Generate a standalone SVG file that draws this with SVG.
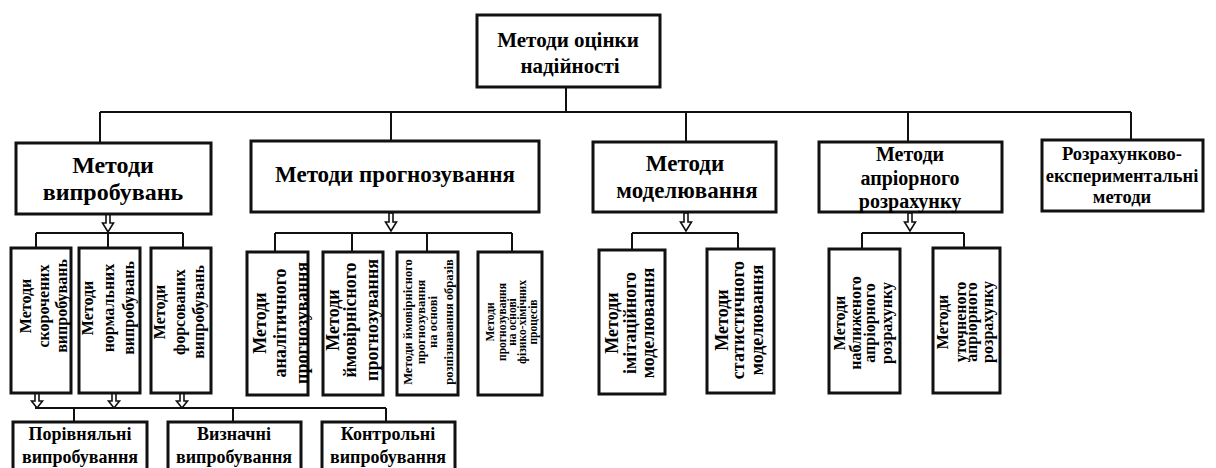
<svg xmlns="http://www.w3.org/2000/svg" width="1216" height="468" viewBox="0 0 1216 468">
<rect width="1216" height="468" fill="#fff"/>

<g id="connectors">
<path fill="none" stroke="#111" stroke-width="2" d="M566,87 V112 M100,112 H1131 M100,112 V143 M391,112 V141 M686,112 V142 M908,112 V142 M1131,112 V140 M36,233 H183 M36,233 V248 M108,231 V248 M183,233 V248 M275,233 H512 M275,233 V252 M352,233 V252 M427,233 V252 M512,233 V252 M632,233 H738 M632,233 V250 M738,233 V249 M862,233 H964 M862,233 V249 M964,233 V249 M35,408 H386 M74,408 V422 M233,408 V422 M386,408 V422"/>
<path fill="#fff" stroke="#111" stroke-width="1.6" d="M106,214 V223 H102.5 L108,232 L113.5,223 H110 V214 Z M389,213 V222 H385.5 L391,231 L396.5,222 H393 V213 Z M684,213 V222 H680.5 L686,231 L691.5,222 H688 V213 Z M908,213 V222 H904.5 L910,231 L915.5,222 H912 V213 Z M35,393 V401 H31.5 L37,408 L42.5,401 H39 V393 Z M112,393 V401 H108.5 L114,408 L119.5,401 H116 V393 Z M180,393 V401 H176.5 L182,408 L187.5,401 H184 V393 Z"/>
</g>

<g id="root">
<rect x="477" y="15" width="183" height="72" fill="#fff" stroke="#111" stroke-width="3"/>
<text font-family="Liberation Serif" font-weight="bold" text-anchor="middle" font-size="21"><tspan x="568" y="47">Методи оцінки</tspan><tspan x="570" y="73">надійності</tspan></text>
</g>

<g id="test-methods">
<rect x="16" y="143" width="195" height="71" fill="#fff" stroke="#111" stroke-width="3"/>
<text font-family="Liberation Serif" font-weight="bold" text-anchor="middle" font-size="24"><tspan x="113" y="173">Методи</tspan><tspan x="113" y="200">випробувань</tspan></text>
</g>
<g id="forecast-methods">
<rect x="251" y="141" width="288" height="71" fill="#fff" stroke="#111" stroke-width="3"/>
<text font-family="Liberation Serif" font-weight="bold" text-anchor="middle" font-size="23" x="395" y="182">Методи прогнозування</text>
</g>
<g id="model-methods">
<rect x="593" y="142" width="183" height="70" fill="#fff" stroke="#111" stroke-width="3"/>
<text font-family="Liberation Serif" font-weight="bold" text-anchor="middle" font-size="23"><tspan x="685" y="171">Методи</tspan><tspan x="687" y="198">моделювання</tspan></text>
</g>
<g id="apriori-methods">
<rect x="819" y="142" width="183" height="70" fill="#fff" stroke="#111" stroke-width="3"/>
<text font-family="Liberation Serif" font-weight="bold" text-anchor="middle" font-size="20"><tspan x="910" y="161">Методи</tspan><tspan x="910" y="185">апріорного</tspan><tspan x="910" y="208">розрахунку</tspan></text>
</g>
<g id="calc-exp-methods">
<rect x="1042" y="140" width="161" height="71" fill="#fff" stroke="#111" stroke-width="3"/>
<text font-family="Liberation Serif" font-weight="bold" text-anchor="middle" font-size="18.5"><tspan x="1122" y="160">Розрахунково-</tspan><tspan x="1122" y="182">експериментальні</tspan><tspan x="1122" y="203">методи</tspan></text>
</g>

<g id="t1">
<rect x="11" y="248" width="60" height="145" fill="#fff" stroke="#111" stroke-width="3"/>
<text font-family="Liberation Serif" font-weight="bold" text-anchor="middle" font-size="16" transform="translate(23,306) rotate(-90)"><tspan x="0" y="8">Методи</tspan><tspan x="0" y="26">скорочених</tspan><tspan x="0" y="44">випробувань</tspan></text>
</g>
<g id="t2">
<rect x="79" y="248" width="61" height="145" fill="#fff" stroke="#111" stroke-width="3"/>
<text font-family="Liberation Serif" font-weight="bold" text-anchor="middle" font-size="16" transform="translate(85,308) rotate(-90)"><tspan x="0" y="8">Методи</tspan><tspan x="0" y="29">нормальних</tspan><tspan x="0" y="49">випробувань</tspan></text>
</g>
<g id="t3">
<rect x="151" y="248" width="60" height="145" fill="#fff" stroke="#111" stroke-width="3"/>
<text font-family="Liberation Serif" font-weight="bold" text-anchor="middle" font-size="16" transform="translate(157,312) rotate(-90)"><tspan x="0" y="8">Методи</tspan><tspan x="0" y="28">форсованих</tspan><tspan x="0" y="47">випробувань</tspan></text>
</g>

<g id="f1">
<rect x="247" y="252" width="61" height="143" fill="#fff" stroke="#111" stroke-width="3"/>
<text font-family="Liberation Serif" font-weight="bold" text-anchor="middle" font-size="18" transform="translate(257,323) rotate(-90)"><tspan x="0" y="9">Методи</tspan><tspan x="0" y="29">аналітичного</tspan><tspan x="0" y="51">прогнозування</tspan></text>
</g>
<g id="f2">
<rect x="323" y="252" width="60" height="143" fill="#fff" stroke="#111" stroke-width="3"/>
<text font-family="Liberation Serif" font-weight="bold" text-anchor="middle" font-size="18" transform="translate(330,320) rotate(-90)"><tspan x="0" y="9">Методи</tspan><tspan x="0" y="26">ймовірнісного</tspan><tspan x="0" y="48">прогнозування</tspan></text>
</g>
<g id="f3">
<rect x="397" y="252" width="61" height="143" fill="#fff" stroke="#111" stroke-width="3"/>
<text font-family="Liberation Serif" font-weight="bold" text-anchor="middle" font-size="12.5" transform="translate(404,322) rotate(-90)"><tspan x="0" y="8">Методи ймовірнісного</tspan><tspan x="0" y="21">прогнозування</tspan><tspan x="0" y="33">на основі</tspan><tspan x="0" y="49">розпізнавання образів</tspan></text>
</g>
<g id="f4">
<rect x="478" y="252" width="64" height="143" fill="#fff" stroke="#111" stroke-width="3"/>
<text font-family="Liberation Serif" font-weight="bold" text-anchor="middle" font-size="11.5" transform="translate(486,322) rotate(-90)"><tspan x="0" y="8">Методи</tspan><tspan x="0" y="20">прогнозування</tspan><tspan x="0" y="30">на основі</tspan><tspan x="0" y="40">фізико-хімічних</tspan><tspan x="0" y="51">процесів</tspan></text>
</g>

<g id="m1">
<rect x="599" y="250" width="66" height="144" fill="#fff" stroke="#111" stroke-width="3"/>
<text font-family="Liberation Serif" font-weight="bold" text-anchor="middle" font-size="18" transform="translate(609,323) rotate(-90)"><tspan x="0" y="9">Методи</tspan><tspan x="0" y="27">імітаційного</tspan><tspan x="0" y="45">моделювання</tspan></text>
</g>
<g id="m2">
<rect x="707" y="249" width="67" height="144" fill="#fff" stroke="#111" stroke-width="3"/>
<text font-family="Liberation Serif" font-weight="bold" text-anchor="middle" font-size="18" transform="translate(719,320) rotate(-90)"><tspan x="0" y="9">Методи</tspan><tspan x="0" y="25">статистичного</tspan><tspan x="0" y="44">моделювання</tspan></text>
</g>

<g id="a1">
<rect x="829" y="249" width="71" height="144" fill="#fff" stroke="#111" stroke-width="3"/>
<text font-family="Liberation Serif" font-weight="bold" text-anchor="middle" font-size="16" transform="translate(836,323) rotate(-90)"><tspan x="0" y="9">Методи</tspan><tspan x="0" y="25">наближеного</tspan><tspan x="0" y="39">апріорного</tspan><tspan x="0" y="56">розрахунку</tspan></text>
</g>
<g id="a2">
<rect x="933" y="248" width="67" height="145" fill="#fff" stroke="#111" stroke-width="3"/>
<text font-family="Liberation Serif" font-weight="bold" text-anchor="middle" font-size="16" transform="translate(939,322) rotate(-90)"><tspan x="0" y="9">Методи</tspan><tspan x="0" y="27">уточненого</tspan><tspan x="0" y="38">апріорного</tspan><tspan x="0" y="54">розрахунку</tspan></text>
</g>

<g id="b1">
<rect x="13" y="422" width="134" height="56" fill="#fff" stroke="#111" stroke-width="3"/>
<text font-family="Liberation Serif" font-weight="bold" text-anchor="middle" font-size="18"><tspan x="80" y="440">Порівняльні</tspan><tspan x="80" y="463">випробування</tspan></text>
</g>
<g id="b2">
<rect x="168" y="422" width="133" height="56" fill="#fff" stroke="#111" stroke-width="3"/>
<text font-family="Liberation Serif" font-weight="bold" text-anchor="middle" font-size="18"><tspan x="234" y="440">Визначні</tspan><tspan x="234" y="463">випробування</tspan></text>
</g>
<g id="b3">
<rect x="322" y="422" width="133" height="56" fill="#fff" stroke="#111" stroke-width="3"/>
<text font-family="Liberation Serif" font-weight="bold" text-anchor="middle" font-size="18"><tspan x="388" y="440">Контрольні</tspan><tspan x="388" y="463">випробування</tspan></text>
</g>
</svg>
